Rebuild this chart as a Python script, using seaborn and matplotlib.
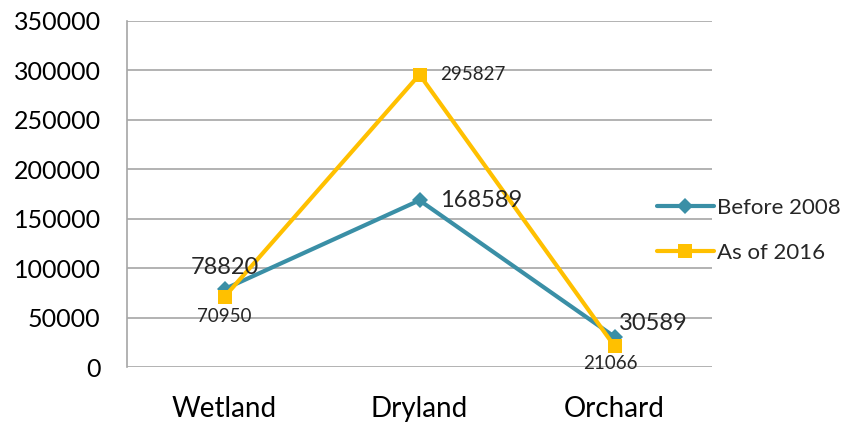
import matplotlib
matplotlib.use("Agg")
import matplotlib.pyplot as plt
import seaborn as sns
import pandas as pd

categories = ["Wetland", "Dryland", "Orchard"]
before_2008 = [78820, 168589, 30589]
as_of_2016 = [70950, 295827, 21066]
series_names = ["Before 2008", "As of 2016"]
yticks = [0, 50000, 100000, 150000, 200000, 250000, 300000, 350000]

sns.set_theme(style="white")
plt.rcParams['font.family'] = ['Lato', 'DejaVu Sans']

df = pd.DataFrame({
    "cat": categories * 2,
    "pos": [0, 1, 2] * 2,
    "value": before_2008 + as_of_2016,
    "series": [series_names[0]] * 3 + [series_names[1]] * 3,
})

teal = "#3A8FA6"
gold = "#FFC000"

fig = plt.figure(figsize=(8.48, 4.23), dpi=100)
ax = fig.add_axes([127/848, 1 - 367/423, (712-127)/848, (367-21)/423])

sns.lineplot(data=df, x="pos", y="value", hue="series", style="series",
             palette={series_names[0]: teal, series_names[1]: gold},
             markers={series_names[0]: "D", series_names[1]: "s"},
             dashes=False, linewidth=3, markersize=10, markeredgewidth=0,
             ax=ax, legend=True)
for line in ax.lines:
    if line.get_marker() == "D":
        line.set_markersize(8)

ax.set_xlim(-0.5, 2.5)
ax.set_ylim(0, 350000)
ax.set_yticks(yticks)
ax.set_yticklabels([str(v) for v in yticks], fontsize=18, color="black")
ax.set_xticks([0, 1, 2])
ax.set_xticklabels(categories, fontsize=20, color="black")
ax.tick_params(axis="x", length=0, pad=21)
ax.tick_params(axis="y", length=0, pad=19)
ax.set_xlabel("")
ax.set_ylabel("")
ax.grid(axis="y", color="#A6A6A6", linewidth=1.2)
ax.set_axisbelow(True)
for s in ["top", "right", "bottom"]:
    ax.spines[s].set_visible(False)
ax.spines["left"].set_color("#A6A6A6")
ax.spines["left"].set_linewidth(1.2)

big = 17
small = 13.5
ax.annotate(f"{before_2008[0]}", (0, before_2008[0]), xytext=(0, 8), textcoords="offset points",
            ha="center", va="bottom", fontsize=big)
ax.annotate(f"{as_of_2016[0]}", (0, as_of_2016[0]), xytext=(0, -8), textcoords="offset points",
            ha="center", va="top", fontsize=small)
ax.annotate(f"{before_2008[1]}", (1, before_2008[1]), xytext=(15, 0), textcoords="offset points",
            ha="left", va="center", fontsize=big)
ax.annotate(f"{as_of_2016[1]}", (1, as_of_2016[1]), xytext=(15, 0), textcoords="offset points",
            ha="left", va="center", fontsize=small)
ax.annotate(f"{before_2008[2]}", (2, before_2008[2]), xytext=(3, 2), textcoords="offset points",
            ha="left", va="bottom", fontsize=big)
ax.annotate(f"{as_of_2016[2]}", (2, as_of_2016[2]), xytext=(-3, -6), textcoords="offset points",
            ha="center", va="top", fontsize=small)

leg = ax.legend(loc="center left", bbox_to_anchor=(0.906, 0.395), frameon=False,
                fontsize=16, handlelength=2.55, labelspacing=1.1, handletextpad=0.15,
                borderpad=0, borderaxespad=0)
for h in leg.legend_handles:
    h.set_linewidth(3)

fig.savefig("out.png", dpi=100)
